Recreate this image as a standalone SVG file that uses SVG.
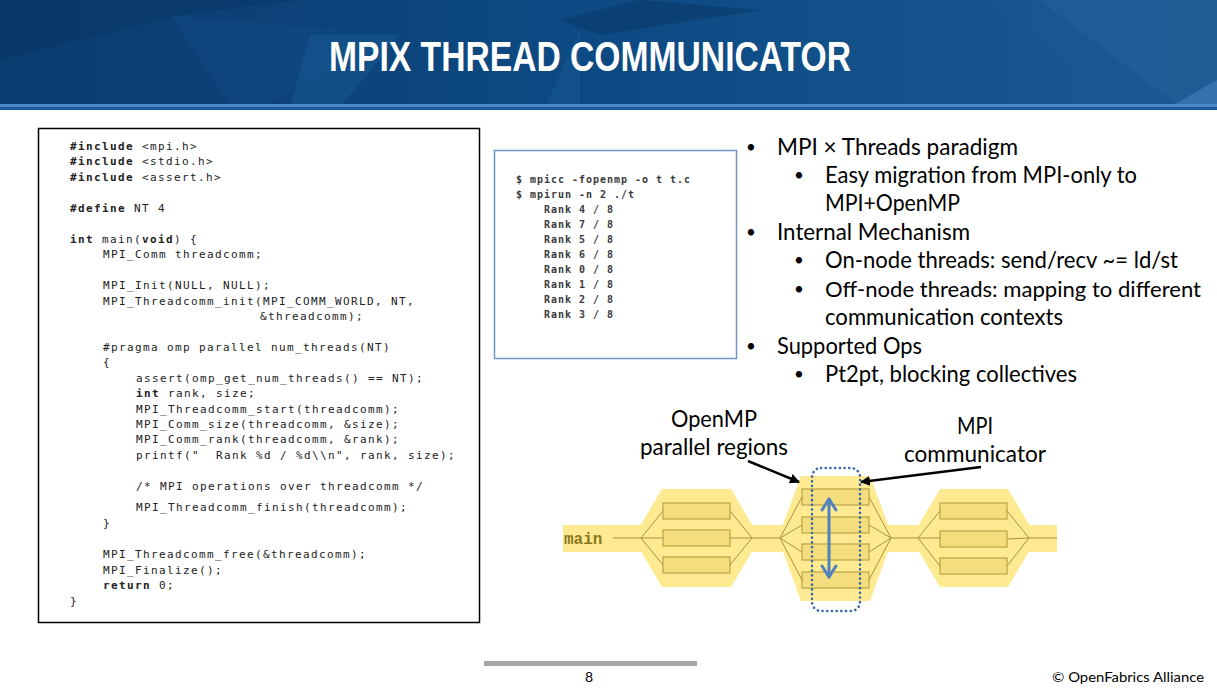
<svg xmlns="http://www.w3.org/2000/svg" width="1217" height="689" viewBox="0 0 1217 689">
<defs>
<linearGradient id="hdr" x1="0" y1="0" x2="1" y2="0">
<stop offset="0" stop-color="#0b3c70"/>
<stop offset="0.5" stop-color="#0d4a83"/>
<stop offset="1" stop-color="#1b5a93"/>
</linearGradient>
<marker id="ah" viewBox="0 0 10 10" refX="9" refY="5" markerWidth="4" markerHeight="4" orient="auto">
<path d="M0,0 L10,5 L0,10 Z" fill="#000"/>
</marker>
</defs>
<style>
.code{font-family:"DejaVu Sans Mono","Liberation Mono",monospace;font-size:11px;letter-spacing:1.38px;fill:#222;white-space:pre}
.term{font-family:"DejaVu Sans Mono","Liberation Mono",monospace;font-size:10px;letter-spacing:0.98px;fill:#3a3a3a;font-weight:bold;white-space:pre}
.b{font-weight:bold}
.txt{font-family:Lato,"Open Sans",sans-serif;font-size:24px;fill:#000}
.dot{font-family:Lato,"Open Sans",sans-serif;font-size:17px;fill:#000}
.lbl{font-family:Lato,"Open Sans",sans-serif;font-size:23px;fill:#000;text-anchor:middle}
.hex{fill:#fdea91}
.box{fill:#f4dd7d;stroke:#bca346;stroke-width:1.2}
.thr{stroke:#a8933e;stroke-width:1;fill:none}
</style>
<rect width="1217" height="689" fill="#fff"/>
<g id="header">
<rect x="0" y="0" width="1217" height="107" fill="url(#hdr)"/>
<polygon points="0,0 300,0 180,15 0,60" fill="#083462" opacity="0.45"/>
<polygon points="170,15 400,35 260,107 230,107" fill="#0f4a82" opacity="0.5"/>
<polygon points="310,35 400,35 340,107 290,107" fill="#1a5a94" opacity="0.45"/>
<polygon points="560,20 640,0 760,10 600,35" fill="#083564" opacity="0.5"/>
<polygon points="580,30 580,107 545,107" fill="#1b5c96" opacity="0.4"/>
<polygon points="990,0 1217,0 1217,107 1120,107" fill="#1a5890" opacity="0.5"/>
<polygon points="1040,0 1217,0 1217,80 1180,107" fill="#25639c" opacity="0.45"/>
<polygon points="1170,107 1217,80 1217,107" fill="#3a78b2" opacity="0.8"/>
<rect x="0" y="104" width="1217" height="3" fill="#4a86c2"/>
<rect x="0" y="107" width="1217" height="3" fill="#1b5b9b"/>
<text x="590" y="71" text-anchor="middle" font-family="'Liberation Sans',Arial,sans-serif" font-weight="bold" font-size="42" fill="#fff" textLength="522" lengthAdjust="spacingAndGlyphs">MPIX THREAD COMMUNICATOR</text>
</g>
<g id="code-box">
<rect x="38.5" y="128.5" width="441" height="494" fill="#fff" stroke="#000" stroke-width="1.5"/>
<g class="code">
<text xml:space="preserve" x="70" y="150"><tspan class="b">#include</tspan> &lt;mpi.h&gt;</text>
<text xml:space="preserve" x="70" y="165"><tspan class="b">#include</tspan> &lt;stdio.h&gt;</text>
<text xml:space="preserve" x="70" y="181"><tspan class="b">#include</tspan> &lt;assert.h&gt;</text>
<text xml:space="preserve" x="70" y="212"><tspan class="b">#define</tspan> NT 4</text>
<text xml:space="preserve" x="70" y="243"><tspan class="b">int</tspan> main(<tspan class="b">void</tspan>) {</text>
<text xml:space="preserve" x="103" y="258">MPI_Comm threadcomm;</text>
<text xml:space="preserve" x="103" y="289">MPI_Init(NULL, NULL);</text>
<text xml:space="preserve" x="103" y="305">MPI_Threadcomm_init(MPI_COMM_WORLD, NT,</text>
<text xml:space="preserve" x="260" y="320">&amp;threadcomm);</text>
<text xml:space="preserve" x="103" y="351">#pragma omp parallel num_threads(NT)</text>
<text xml:space="preserve" x="103" y="366">{</text>
<text xml:space="preserve" x="136" y="382">assert(omp_get_num_threads() == NT);</text>
<text xml:space="preserve" x="136" y="397"><tspan class="b">int</tspan> rank, size;</text>
<text xml:space="preserve" x="136" y="413">MPI_Threadcomm_start(threadcomm);</text>
<text xml:space="preserve" x="136" y="428">MPI_Comm_size(threadcomm, &amp;size);</text>
<text xml:space="preserve" x="136" y="443">MPI_Comm_rank(threadcomm, &amp;rank);</text>
<text xml:space="preserve" x="136" y="459">printf("  Rank %d / %d\\n", rank, size);</text>
<text xml:space="preserve" x="136" y="490">/* MPI operations over threadcomm */</text>
<text xml:space="preserve" x="136" y="511">MPI_Threadcomm_finish(threadcomm);</text>
<text xml:space="preserve" x="103" y="527">}</text>
<text xml:space="preserve" x="103" y="558">MPI_Threadcomm_free(&amp;threadcomm);</text>
<text xml:space="preserve" x="103" y="574">MPI_Finalize();</text>
<text xml:space="preserve" x="103" y="589"><tspan class="b">return</tspan> 0;</text>
<text xml:space="preserve" x="70" y="605">}</text>
</g>
</g>
<g id="terminal-box">
<rect x="494.5" y="150.5" width="242" height="208" fill="#fff" stroke="#7094c4" stroke-width="1.5"/>
<g class="term">
<text xml:space="preserve" x="516" y="183">$ mpicc -fopenmp -o t t.c</text>
<text xml:space="preserve" x="516" y="198">$ mpirun -n 2 ./t</text>
<text xml:space="preserve" x="544" y="213">Rank 4 / 8</text>
<text xml:space="preserve" x="544" y="228">Rank 7 / 8</text>
<text xml:space="preserve" x="544" y="243">Rank 5 / 8</text>
<text xml:space="preserve" x="544" y="258">Rank 6 / 8</text>
<text xml:space="preserve" x="544" y="273">Rank 0 / 8</text>
<text xml:space="preserve" x="544" y="288">Rank 1 / 8</text>
<text xml:space="preserve" x="544" y="303">Rank 2 / 8</text>
<text xml:space="preserve" x="544" y="318">Rank 3 / 8</text>
</g>
</g>
<g id="bullets">
<text class="dot" x="746" y="153">•</text>
<text class="txt" x="777" y="155" textLength="241" lengthAdjust="spacingAndGlyphs">MPI × Threads paradigm</text>
<text class="dot" x="794" y="181">•</text>
<text class="txt" x="825" y="183" textLength="312" lengthAdjust="spacingAndGlyphs">Easy migration from MPI-only to</text>
<text class="txt" x="825" y="211" textLength="135" lengthAdjust="spacingAndGlyphs">MPI+OpenMP</text>
<text class="dot" x="746" y="238">•</text>
<text class="txt" x="777" y="240" textLength="193" lengthAdjust="spacingAndGlyphs">Internal Mechanism</text>
<text class="dot" x="794" y="266">•</text>
<text class="txt" x="825" y="268" textLength="353" lengthAdjust="spacingAndGlyphs">On-node threads: send/recv ~= ld/st</text>
<text class="dot" x="794" y="295">•</text>
<text class="txt" x="825" y="297" style="font-size:22px" textLength="376" lengthAdjust="spacingAndGlyphs">Off-node threads: mapping to different</text>
<text class="txt" x="825" y="325" textLength="238" lengthAdjust="spacingAndGlyphs">communication contexts</text>
<text class="dot" x="746" y="352">•</text>
<text class="txt" x="777" y="354" textLength="145" lengthAdjust="spacingAndGlyphs">Supported Ops</text>
<text class="dot" x="794" y="380">•</text>
<text class="txt" x="825" y="382" textLength="252" lengthAdjust="spacingAndGlyphs">Pt2pt, blocking collectives</text>
</g>
<g id="fork-join-diagram">
<rect x="563" y="525" width="494" height="27" class="hex"/>
<polygon class="hex" points="662,489 731,489 760,538 731,587 662,587 633,538"/>
<polygon class="hex" points="801,476 870,476 893,538 870,601 801,601 778,538"/>
<polygon class="hex" points="940,489 1008,489 1037,538 1008,587 940,587 911,538"/>
<g id="region1">
<rect class="box" x="663" y="503" width="67" height="16"/>
<rect class="box" x="663" y="530" width="67" height="16"/>
<rect class="box" x="663" y="557" width="67" height="16"/>
</g>
<g id="region2">
<rect class="box" x="802" y="489" width="67" height="16"/>
<rect class="box" x="802" y="517" width="67" height="16"/>
<rect class="box" x="802" y="544" width="67" height="16"/>
<rect class="box" x="802" y="572" width="67" height="16"/>
</g>
<g id="region3">
<rect class="box" x="940" y="503" width="67" height="16"/>
<rect class="box" x="940" y="531" width="67" height="16"/>
<rect class="box" x="940" y="558" width="67" height="16"/>
</g>
<text x="564" y="544" font-family="'Liberation Mono','Courier New',monospace" font-size="16" font-weight="bold" fill="#8a7820">main</text>
<g id="threads" class="thr">
<path d="M613,538 H641 M641,538 L663,511 M641,538 H663 M641,538 L663,565 M730,511 L752,538 M730,538 H752 M730,565 L752,538 M752,538 H780"/>
<path d="M780,538 L802,497 M780,538 L802,525 M780,538 L802,552 M780,538 L802,580 M869,497 L891,538 M869,525 L891,538 M869,552 L891,538 M869,580 L891,538 M891,538 H918"/>
<path d="M918,538 L940,511 M918,538 H940 M918,538 L940,566 M1007,511 L1029,538 M1007,539 L1029,538 M1007,566 L1029,538 M1029,538 H1057"/>
</g>
<rect id="mpi-comm" x="812" y="468" width="48" height="143" rx="9" fill="none" stroke="#3a68a6" stroke-width="2.6" stroke-dasharray="0.1 4.6" stroke-linecap="round"/>
<g id="comm-arrow" stroke="#4f81bd" stroke-width="3" fill="none" stroke-linecap="round" stroke-linejoin="round">
<line x1="829" y1="499" x2="829" y2="577"/>
<polyline points="822,510 829,499 836,510"/>
<polyline points="822,566 829,577 836,566"/>
</g>
</g>
<g id="labels">
<text class="lbl" x="714" y="427" textLength="86" lengthAdjust="spacingAndGlyphs">OpenMP</text>
<text class="lbl" x="714" y="455" textLength="148" lengthAdjust="spacingAndGlyphs">parallel regions</text>
<text class="lbl" x="975" y="434" textLength="36" lengthAdjust="spacingAndGlyphs">MPI</text>
<text class="lbl" x="975" y="462" textLength="142" lengthAdjust="spacingAndGlyphs">communicator</text>
</g>
<g id="connectors" stroke="#000" stroke-width="2.5" fill="none">
<line x1="748" y1="461" x2="799" y2="482" marker-end="url(#ah)"/>
<line x1="981" y1="467" x2="861" y2="482" marker-end="url(#ah)"/>
</g>
<g id="footer">
<rect x="484" y="661" width="213" height="5" fill="#a6a6a6"/>
<text x="589" y="682" text-anchor="middle" font-family="Lato,'Open Sans',sans-serif" font-size="14" fill="#000">8</text>
<text x="1204" y="682" text-anchor="end" font-family="Lato,'Open Sans',sans-serif" font-size="14" fill="#000" textLength="152" lengthAdjust="spacingAndGlyphs">© OpenFabrics Alliance</text>
</g>
</svg>
